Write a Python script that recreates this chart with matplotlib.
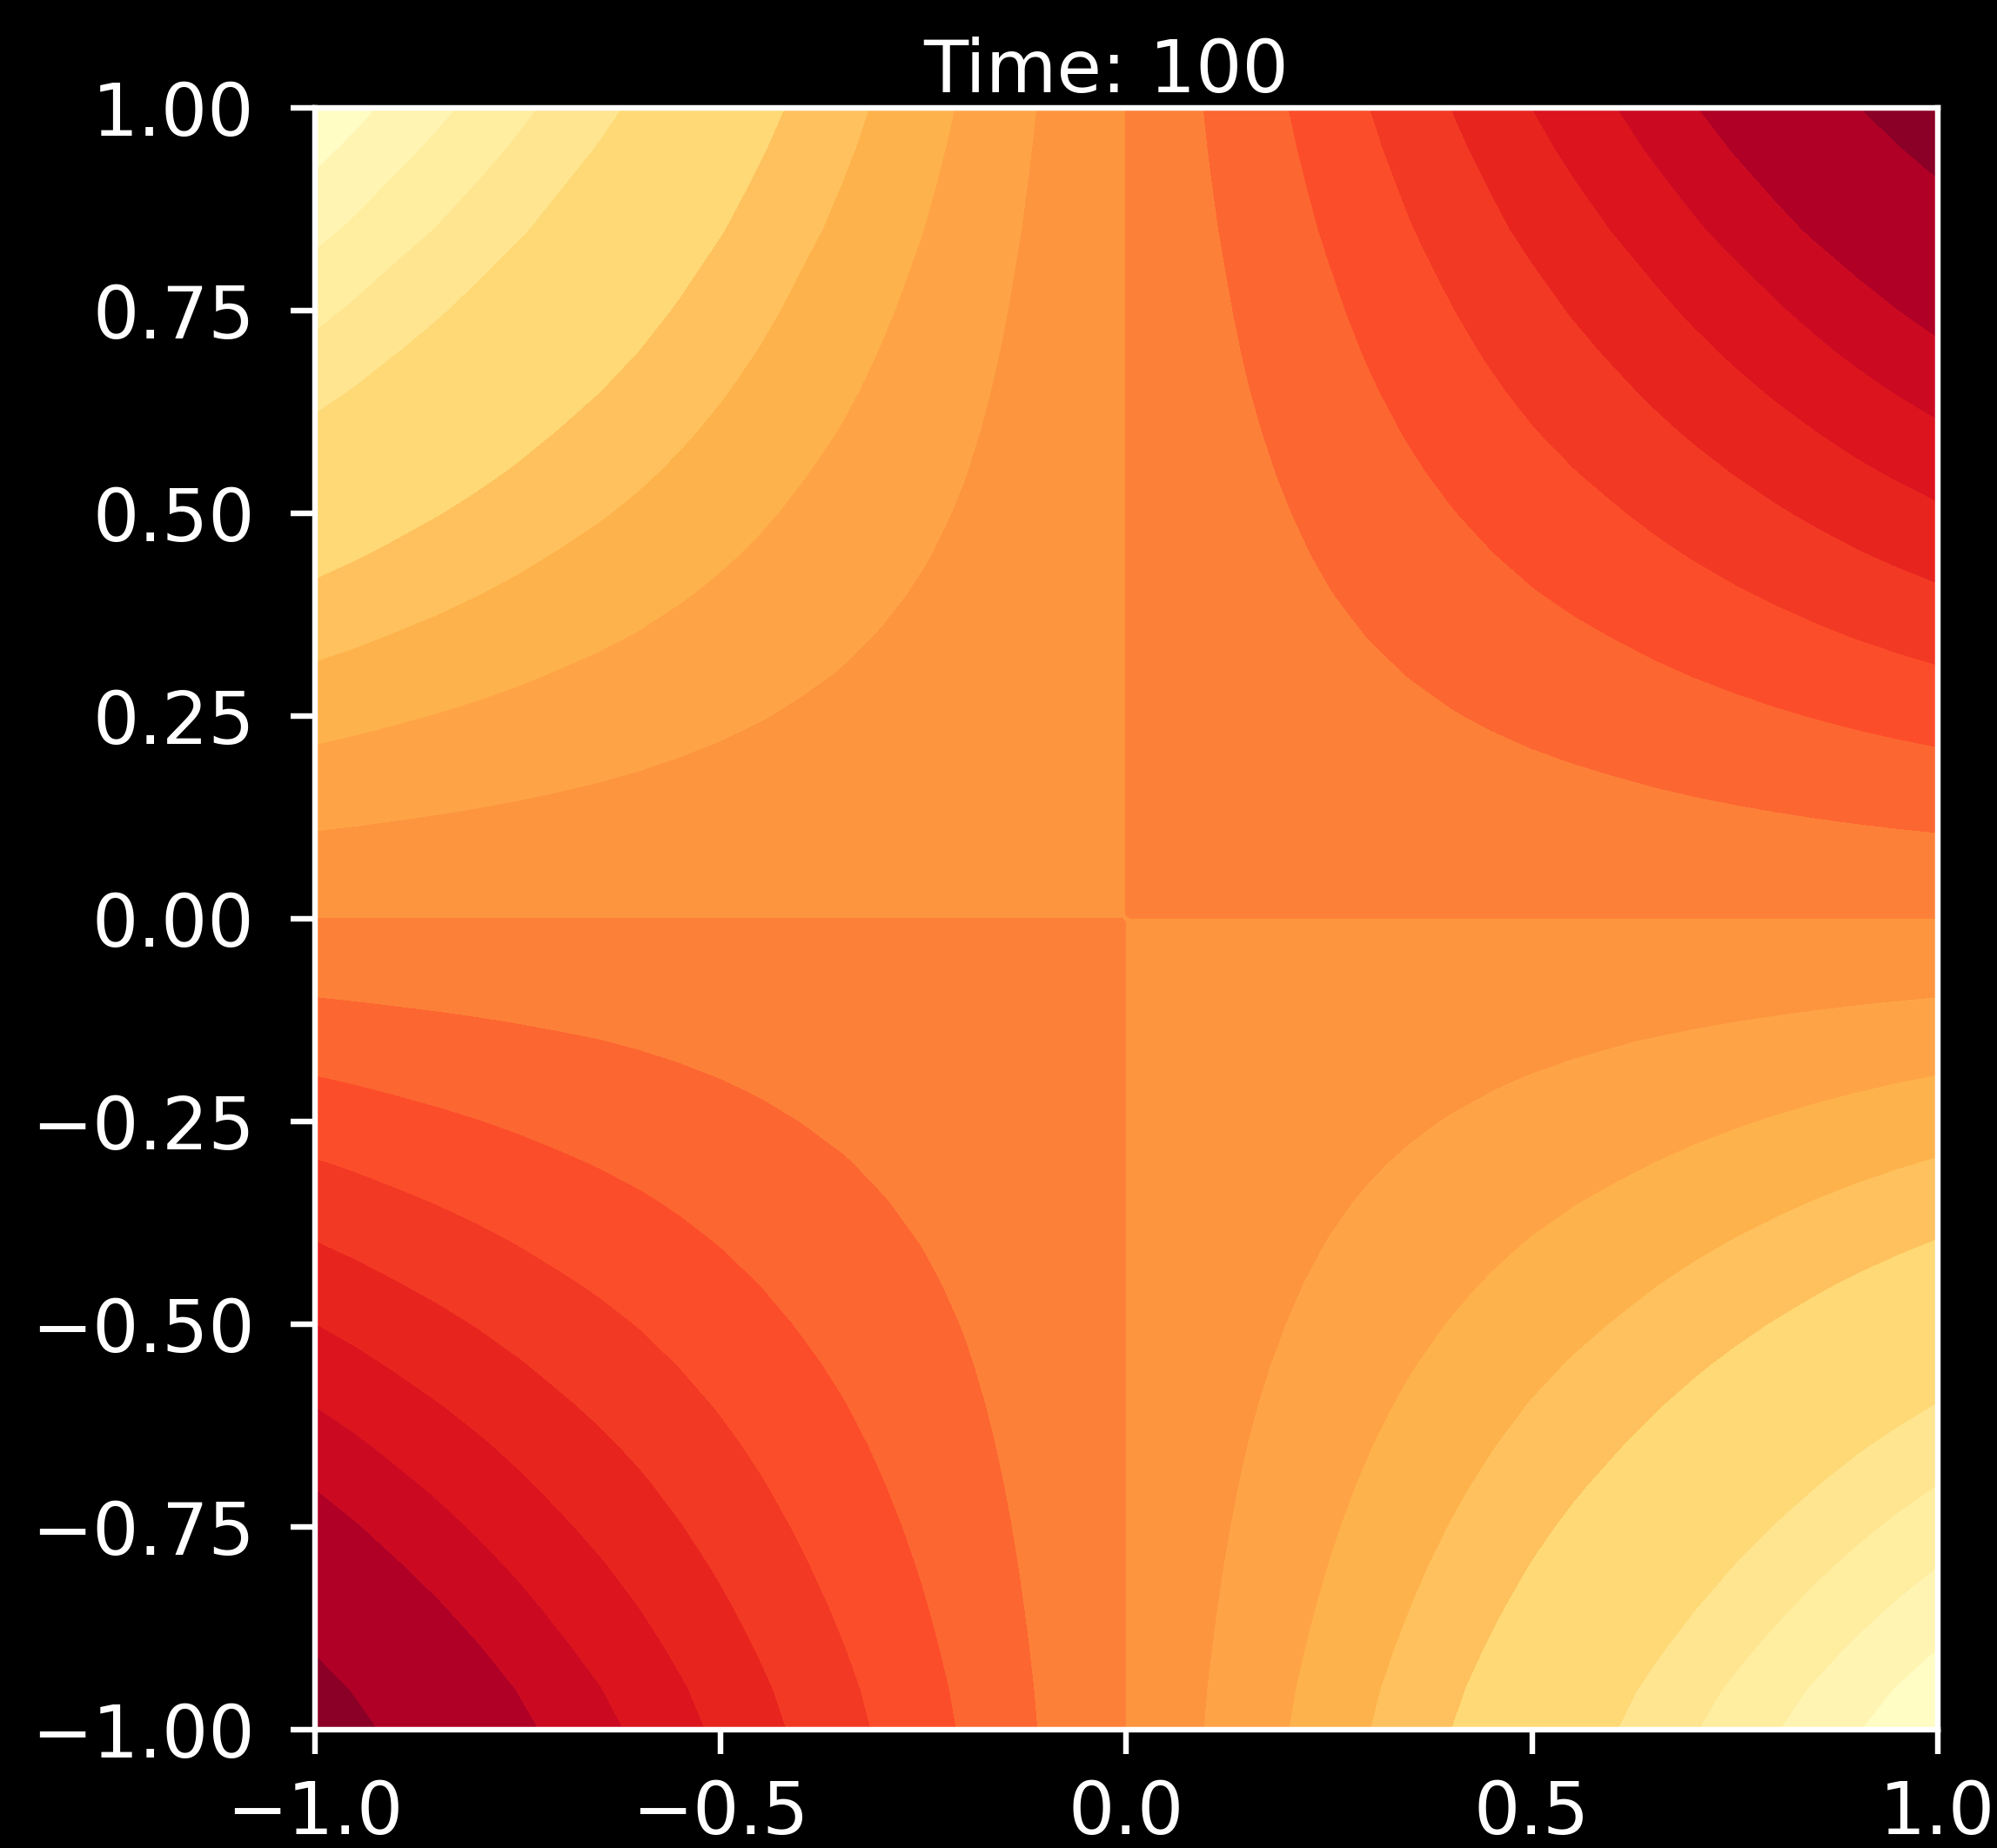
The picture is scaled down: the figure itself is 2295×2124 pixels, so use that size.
import matplotlib
matplotlib.use('Agg')
import matplotlib.pyplot as plt
import numpy as np

plt.style.use('dark_background')

# grid positions (same on both axes), finer close to the axes crossing
pos = [-1.0, -0.95, -0.9, -0.85, -0.8, -0.75, -0.7, -0.65, -0.6, -0.55,
       -0.5, -0.45, -0.4, -0.35, -0.3, -0.25, -0.2, -0.15, -0.1, -0.05,
       -0.005, 0.005,
       0.05, 0.1, 0.15, 0.2, 0.25, 0.3, 0.35, 0.4, 0.45, 0.5,
       0.55, 0.6, 0.65, 0.7, 0.75, 0.8, 0.85, 0.9, 0.95, 1.0]

# field: profile along the top edge (x)
# and along the side (y); the field is their product
x_weight = [-0.98, -0.928, -0.875, -0.825, -0.775, -0.725, -0.675, -0.628, -0.58, -0.53,
            -0.48, -0.43, -0.38, -0.333, -0.285, -0.238, -0.19, -0.14, -0.09, -0.043,
            -0.004, 0.005,
            0.053, 0.105, 0.153, 0.2, 0.25, 0.3, 0.35, 0.4, 0.45, 0.5,
            0.548, 0.595, 0.645, 0.695, 0.745, 0.795, 0.845, 0.895, 0.943, 0.99]
y_weight = [-1.0, -0.96, -0.91, -0.86, -0.81, -0.76, -0.71, -0.66, -0.61, -0.56,
            -0.51, -0.46, -0.41, -0.36, -0.31, -0.26, -0.21, -0.16, -0.105, -0.053,
            -0.005, 0.004,
            0.046, 0.095, 0.143, 0.19, 0.24, 0.29, 0.34, 0.39, 0.44, 0.49,
            0.54, 0.59, 0.64, 0.69, 0.74, 0.79, 0.845, 0.895, 0.948, 1.0]

# contour levels seen in the picture (no band edge at -0.5 and 0.8)
levels = [-1.0, -0.9, -0.8, -0.7, -0.6, -0.4, -0.3, -0.2, -0.1, 0.0,
          0.1, 0.2, 0.3, 0.4, 0.5, 0.6, 0.7, 0.9, 1.0]

x_ticks = [-1.0, -0.5, 0.0, 0.5, 1.0]
y_ticks = [-1.0, -0.75, -0.5, -0.25, 0.0, 0.25, 0.5, 0.75, 1.0]
title = 'Time: 100'

Z = np.outer(y_weight, x_weight)

dpi = 580
fig = plt.figure(figsize=(2295 / dpi, 2124 / dpi), dpi=dpi)
ax = fig.add_axes([0.1577, 0.064, 0.8126, 0.8776])
ax.contourf(pos, pos, Z, levels=levels, cmap='YlOrRd', vmin=-1, vmax=1)
ax.set_xlim(-1, 1)
ax.set_ylim(-1, 1)
ax.set_xticks(x_ticks)
ax.set_yticks(y_ticks)
ax.tick_params(labelsize=10.4)
ax.tick_params(axis='y', pad=5.1)
ax.set_title(title, fontsize=10.4, pad=2.2, x=0.4875)

fig.savefig('out.png', dpi=dpi, facecolor='black')
